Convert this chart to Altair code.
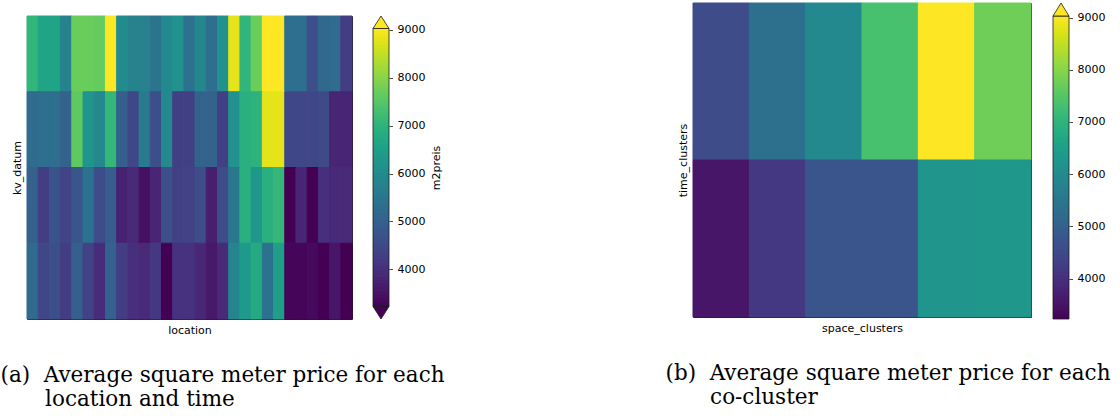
import altair as alt
import numpy as np
import pandas as pd

# ---------------- data ----------------
locations = ["L01", "L02", "L03", "L04", "L05", "L06", "L07", "L08", "L09", "L10",
             "L11", "L12", "L13", "L14", "L15", "L16", "L17", "L18", "L19", "L20",
             "L21", "L22", "L23", "L24", "L25", "L26", "L27", "L28", "L29"]
kv_dates = ["P4", "P3", "P2", "P1"]  # top row first

price_p4 = [7050, 6600, 6600, 5800, 7700, 7700, 7650, 9100, 6000, 5800, 5750, 5450, 5950, 6150, 5400,
            5900, 5300, 6150, 8800, 7050, 7700, 9100, 9100, 5300, 5300, 4600, 5150, 5250, 4250]
price_p3 = [5250, 5300, 5300, 5050, 7600, 6250, 5950, 7100, 4950, 4450, 5600, 4600, 5950, 4300, 4300,
            5050, 5050, 4300, 6150, 6900, 6950, 8800, 8800, 4450, 4450, 4450, 4500, 3800, 3800]
price_p2 = [5000, 4250, 4700, 4400, 4750, 5400, 4550, 4900, 3750, 3900, 3450, 3800, 4600, 4300, 4350,
            4550, 3700, 4550, 5550, 6900, 6300, 6900, 7100, 3230, 3800, 3230, 4000, 3900, 3900]
price_p1 = [5200, 4450, 4600, 4250, 4950, 4350, 3950, 5000, 4250, 4000, 3900, 4150, 3230, 4050, 4050,
            3850, 3600, 3900, 5850, 6350, 6750, 5400, 6500, 3300, 3300, 3350, 3230, 3550, 3230]

space_clusters = ["S1", "S2", "S3", "S4", "S5", "S6"]
time_clusters = ["T2", "T1"]  # top row first
cluster_t2 = [4550, 5350, 5950, 7350, 9100, 7750]
cluster_t1 = [3550, 4150, 4750, 4750, 6250, 6300]

cbar_ticks = [4000, 5000, 6000, 7000, 8000, 9000]
VMIN, VMAX = 3225, 9030

caption_a = ["(a)", "Average square meter price for each", "location and time"]
caption_b = ["(b)", "Average square meter price for each", "co-cluster"]

# ---------------- tables ----------------
rowsA = []
for d, vals in zip(kv_dates, [price_p4, price_p3, price_p2, price_p1]):
    for loc, v in zip(locations, vals):
        rowsA.append({"location": loc, "kv_datum": d, "m2preis": v})
dfA = pd.DataFrame(rowsA)

rowsB = []
for t, vals in zip(time_clusters, [cluster_t2, cluster_t1]):
    for s, v in zip(space_clusters, vals):
        rowsB.append({"space_clusters": s, "time_clusters": t, "m2preis": v})
dfB = pd.DataFrame(rowsB)

color_scale = alt.Scale(scheme="viridis", domain=[VMIN, VMAX], clamp=True)
band = alt.Scale(paddingInner=0, paddingOuter=0)
noax = dict(labels=False, ticks=False, domain=False, titlePadding=5)


def heatmap(df, xf, yf, xs, ys, w, h):
    return alt.Chart(df).mark_rect(strokeWidth=1).encode(
        x=alt.X(f"{xf}:N", sort=xs, scale=band, axis=alt.Axis(title=xf, **noax)),
        y=alt.Y(f"{yf}:N", sort=ys, scale=band, axis=alt.Axis(title=yf, **noax)),
        color=alt.Color("m2preis:Q", scale=color_scale, legend=None),
        stroke=alt.Stroke("m2preis:Q", scale=color_scale, legend=None),
    ).properties(
        width=w, height=h,
        view=alt.ViewBackground(stroke="#1a1a1a", strokeWidth=1),
    )


def colorbar(height, arrow_top, arrow_bot, title):
    body = height - arrow_top - arrow_bot
    upp = (VMAX - VMIN) / body
    yscale = alt.Scale(domain=[VMIN - arrow_bot * upp, VMAX + arrow_top * upp], nice=False, zero=False)
    axis = alt.Axis(orient="right", values=cbar_ticks, format="d", tickSize=3.5, tickWidth=0.8,
                    tickColor="#1a1a1a", labelPadding=4.5, domain=False, grid=False,
                    title=title, titleAngle=270, titleBaseline="top", titlePadding=6)
    xenc = alt.X("k:N", axis=None, scale=band)
    edges = np.linspace(VMIN, VMAX, 201)
    grad = pd.DataFrame({"lo": edges[:-1], "hi": edges[1:] + upp * 0.8,
                         "m2preis": (edges[:-1] + edges[1:]) / 2, "k": "cb"})
    grad.loc[grad.index[-1], "hi"] = VMAX
    layers = [
        alt.Chart(grad).mark_rect().encode(
            x=xenc, y=alt.Y("lo:Q", scale=yscale, axis=axis), y2="hi:Q",
            color=alt.Color("m2preis:Q", scale=color_scale, legend=None)),
        alt.Chart(pd.DataFrame({"lo": [VMIN], "hi": [VMAX], "k": ["cb"]})).mark_rect(
            fillOpacity=0, stroke="#1a1a1a", strokeWidth=0.8).encode(
            x=xenc, y=alt.Y("lo:Q", scale=yscale, axis=axis), y2="hi:Q"),
    ]
    if arrow_top:
        hh = arrow_top / 2 / 8
        layers.append(alt.Chart(pd.DataFrame({"lo": [VMAX + arrow_top * upp / 2], "m2preis": [VMAX], "k": ["cb"]}))
                      .mark_point(shape=f"M-1,{hh}L0,-{hh}L1,{hh}Z", size=256, filled=True, opacity=1,
                                  stroke="#1a1a1a", strokeWidth=0.8)
                      .encode(x=xenc, y=alt.Y("lo:Q", scale=yscale, axis=axis),
                              color=alt.Color("m2preis:Q", scale=color_scale, legend=None)))
    if arrow_bot:
        hh = arrow_bot / 2 / 8
        layers.append(alt.Chart(pd.DataFrame({"lo": [VMIN - arrow_bot * upp / 2], "m2preis": [VMIN], "k": ["cb"]}))
                      .mark_point(shape=f"M-1,-{hh}L0,{hh}L1,-{hh}Z", size=256, filled=True, opacity=1,
                                  stroke="#1a1a1a", strokeWidth=0.8)
                      .encode(x=xenc, y=alt.Y("lo:Q", scale=yscale, axis=axis),
                              color=alt.Color("m2preis:Q", scale=color_scale, legend=None)))
    return alt.layer(*layers).properties(width=16, height=height)


def spacer(h):
    return alt.Chart(pd.DataFrame({"s": [0]})).mark_rect(opacity=0).encode(
        x=alt.value(0), x2=alt.value(0), y=alt.value(0), y2=alt.value(0)
    ).properties(width=1, height=h)


NB = "\u00a0"
ZW = "\u200b"
cap_style = dict(orient="bottom", anchor="start", font="DejaVu Serif", fontSize=21.5,
                 fontWeight="normal", color="black", lineHeight=24, offset=29)


def caption(parts):
    return [parts[0] + NB + " " + parts[1], ZW + NB * 6 + "\u2006" + parts[2]]


heatA = heatmap(dfA, "location", "kv_datum", locations, kv_dates, 325, 303)
cbA = colorbar(303, 12.5, 12.5, "m2preis")
groupA = alt.vconcat(spacer(9), alt.hconcat(heatA, cbA, spacing=17), spacing=0).properties(
    title=alt.TitleParams(caption(caption_a), dx=-10, **cap_style))

heatB = heatmap(dfB, "space_clusters", "time_clusters", space_clusters, time_clusters, 338, 314)
cbB = colorbar(316, 13, 0, "")
groupB = alt.hconcat(heatB, cbB, spacing=18).properties(
    title=alt.TitleParams(caption(caption_b), dx=-11, **cap_style))

chart = alt.hconcat(groupA, groupB, spacing=220).properties(
    padding=0, background="white"
).configure(
    font="DejaVu Sans"
).configure_view(
    stroke="transparent"
).configure_axis(
    titleFontSize=11, titleFontWeight="normal", titleColor="black",
    labelFontSize=11, labelColor="black"
)

chart.save("out.html", embed_options={"renderer": "svg", "actions": False})
